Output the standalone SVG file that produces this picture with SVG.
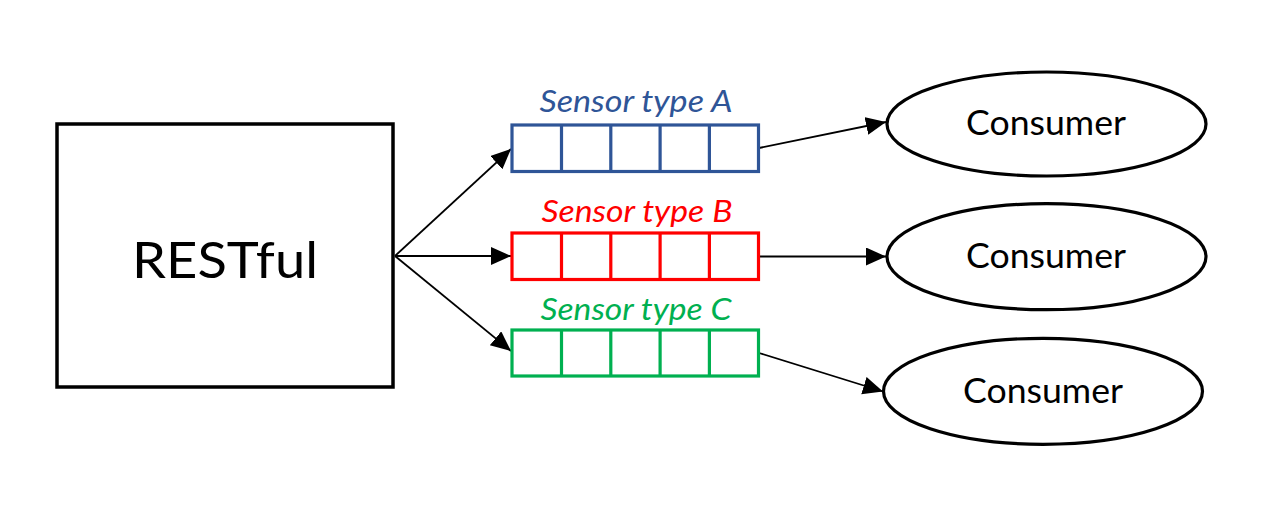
<svg xmlns="http://www.w3.org/2000/svg" width="1266" height="519" viewBox="0 0 1266 519">
<style>
.box{fill:#fff;stroke:#000;stroke-width:3.5}
.ell{fill:#fff;stroke:#000;stroke-width:3.2}
.q{fill:#fff;stroke-width:3.2}
.lbl{font-family:Lato,"Open Sans",sans-serif;font-style:italic;font-size:30px;text-anchor:middle}
.t{font-family:Lato,"Open Sans",sans-serif;fill:#000;text-anchor:middle}
.conn{stroke:#000;stroke-width:1.8;fill:none;marker-end:url(#ah)}
</style>
<defs>
<marker id="ah" markerUnits="userSpaceOnUse" markerWidth="22" markerHeight="20" refX="20" refY="9" orient="auto" viewBox="0 0 22 20">
<path d="M0,0 L20,9 L0,18 Z" fill="#000"/>
</marker>
</defs>
<rect width="1266" height="519" fill="#fff"/>
<g id="connectors">
<line class="conn" x1="395" y1="256" x2="511" y2="149"/>
<line class="conn" x1="395" y1="256" x2="511" y2="256"/>
<line class="conn" x1="395" y1="256" x2="511" y2="351"/>
<line class="conn" x1="759" y1="148" x2="886" y2="122"/>
<line class="conn" x1="759" y1="256.5" x2="886" y2="256.5"/>
<line class="conn" x1="759" y1="353" x2="883" y2="391.5"/>
</g>
<g id="restful">
<rect class="box" x="57" y="124" width="336" height="263"/>
<text class="t" x="225" y="278" font-size="50" textLength="186" lengthAdjust="spacingAndGlyphs">RESTful</text>
</g>
<g id="queueA">
<text class="lbl" x="636" y="111.5" fill="#2F5597" textLength="193" lengthAdjust="spacingAndGlyphs">Sensor type A</text>
<rect class="q" x="512" y="125" width="246.5" height="46.5" stroke="#2F5597"/>
<path d="M561.5,125v46.5M610.8,125v46.5M660.1,125v46.5M709.4,125v46.5" stroke="#2F5597" stroke-width="3.2"/>
</g>
<g id="queueB">
<text class="lbl" x="637" y="221.5" fill="#FF0000" textLength="191" lengthAdjust="spacingAndGlyphs">Sensor type B</text>
<rect class="q" x="512" y="233" width="246.5" height="46.5" stroke="#FF0000"/>
<path d="M561.5,233v46.5M610.8,233v46.5M660.1,233v46.5M709.4,233v46.5" stroke="#FF0000" stroke-width="3.2"/>
</g>
<g id="queueC">
<text class="lbl" x="636" y="319.5" fill="#00B050" textLength="191" lengthAdjust="spacingAndGlyphs">Sensor type C</text>
<rect class="q" x="512" y="330" width="246.5" height="46" stroke="#00B050"/>
<path d="M561.5,330v46M610.8,330v46M660.1,330v46M709.4,330v46" stroke="#00B050" stroke-width="3.2"/>
</g>
<g id="consumer1">
<ellipse class="ell" cx="1046.5" cy="124" rx="159.5" ry="52"/>
<text class="t" x="1046" y="135" font-size="35" textLength="160" lengthAdjust="spacingAndGlyphs">Consumer</text>
</g>
<g id="consumer2">
<ellipse class="ell" cx="1046.5" cy="256.7" rx="159.5" ry="53"/>
<text class="t" x="1046" y="268" font-size="35" textLength="160" lengthAdjust="spacingAndGlyphs">Consumer</text>
</g>
<g id="consumer3">
<ellipse class="ell" cx="1043" cy="391.3" rx="159.5" ry="53"/>
<text class="t" x="1043" y="403" font-size="35" textLength="160" lengthAdjust="spacingAndGlyphs">Consumer</text>
</g>
</svg>
